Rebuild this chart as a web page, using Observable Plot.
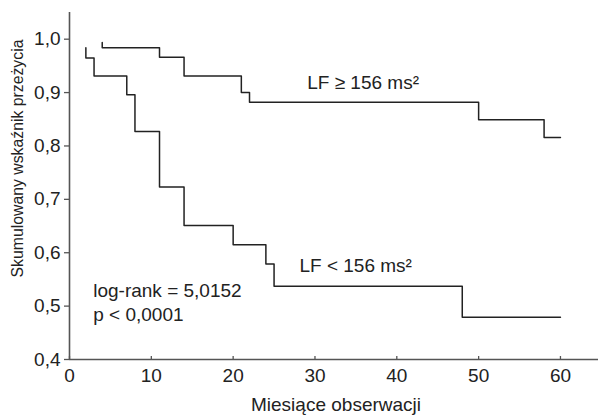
<!DOCTYPE html>
<html><head><meta charset="utf-8">
<script src="https://cdn.jsdelivr.net/npm/d3@7"></script>
<script src="https://cdn.jsdelivr.net/npm/@observablehq/plot@0.6"></script>
<style>body{margin:0;background:#fff}</style>
</head><body><div id="chart"></div>
<script>
const highMonths = [4, 4, 11, 14, 21, 22, 50, 58, 60];
const highSurv = [0.994, 0.984, 0.966, 0.931, 0.900, 0.882, 0.849, 0.816, 0.816];
const lowMonths = [2, 2, 3, 7, 8, 11, 14, 20, 24, 25, 48, 60];
const lowSurv = [0.984, 0.965, 0.931, 0.896, 0.827, 0.723, 0.651, 0.615, 0.579, 0.537, 0.479, 0.479];
const xTicks = [0, 10, 20, 30, 40, 50, 60];
const yTicks = [0.4, 0.5, 0.6, 0.7, 0.8, 0.9, 1.0];
const labelHigh = "LF ≥ 156 ms²";
const labelLow = "LF < 156 ms²";
const statsText = "log-rank = 5,0152\np < 0,0001";
const xLabel = "Miesiące obserwacji";
const yLabel = "Skumulowany wskaźnik przeżycia";

const high = highMonths.map((m, i) => ({month: m, surv: highSurv[i]}));
const low = lowMonths.map((m, i) => ({month: m, surv: lowSurv[i]}));
const comma = d => d.toFixed(1).replace(".", ",");

const FONT = '"Liberation Sans", Arial, Helvetica, sans-serif';

const chart = Plot.plot({
  width: 599,
  height: 417,
  marginLeft: 69,
  marginRight: 1,
  marginTop: 12,
  marginBottom: 58,
  style: {fontFamily: FONT, fontSize: "19px", color: "#222", background: "#fff"},
  x: {domain: [0, 64.65]},
  y: {domain: [0.4, 1.05]},
  marks: [
    Plot.axisX({ticks: xTicks, tickSize: -3, tickPadding: 12, tickFormat: d => String(d), label: null, stroke: "#555", strokeWidth: 1.3}),
    Plot.axisY({ticks: yTicks, tickSize: 5, tickPadding: 4, tickFormat: comma, label: null, stroke: "#555", strokeWidth: 1.3}),
    Plot.ruleX([0], {stroke: "#555", strokeWidth: 1.6}),
    Plot.ruleY([0.4], {stroke: "#555", strokeWidth: 1.6}),
    Plot.line(high, {x: "month", y: "surv", curve: "step-after", stroke: "#222", strokeWidth: 1.5}),
    Plot.line(low, {x: "month", y: "surv", curve: "step-after", stroke: "#222", strokeWidth: 1.5}),
    Plot.text([labelHigh], {x: 29.05, y: 0.906, text: d => d, textAnchor: "start", lineAnchor: "bottom", fontSize: 19, fill: "#222"}),
    Plot.text([labelLow], {x: 28.1, y: 0.5637, text: d => d, textAnchor: "start", lineAnchor: "bottom", fontSize: 19, fill: "#222"}),
    Plot.text([statsText], {x: 2.9, y: 0.4713, text: d => d, textAnchor: "start", lineAnchor: "bottom", lineHeight: 1.27, fontSize: 19, fill: "#222"}),
    Plot.text([xLabel], {frameAnchor: "bottom", text: d => d, textAnchor: "middle", dx: 2, dy: 51, fontSize: 19, fill: "#222"}),
    Plot.text([yLabel], {frameAnchor: "left", text: d => d, textAnchor: "middle", lineAnchor: "middle", rotate: -90, dx: -52, dy: -27.5, fontSize: 15.8, fill: "#222"})
  ]
});
document.getElementById("chart").appendChild(chart);
</script>
</body></html>
